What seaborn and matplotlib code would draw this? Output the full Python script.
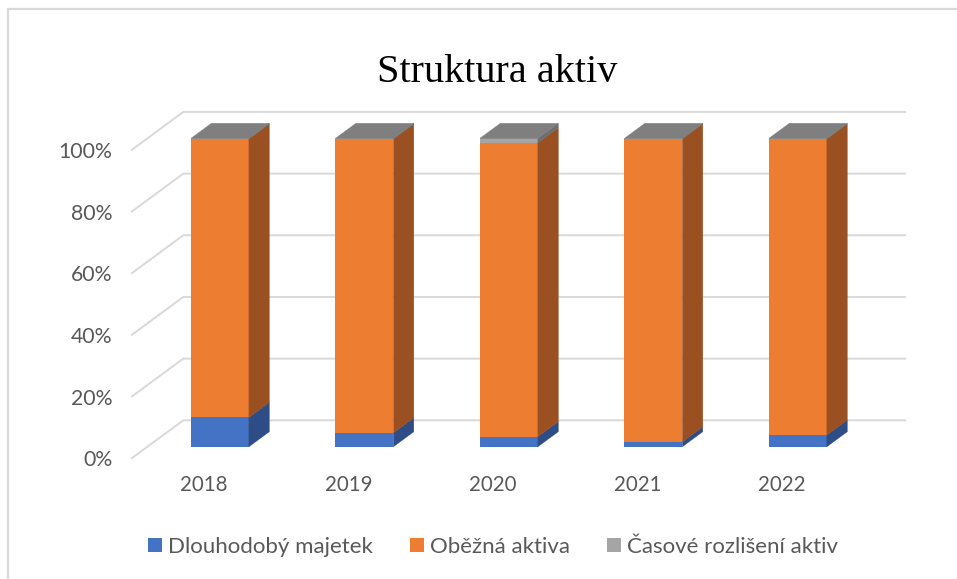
import numpy as np
import pandas as pd
import matplotlib.pyplot as plt
import seaborn as sns
from matplotlib.patches import Polygon, Patch, Rectangle
from matplotlib.transforms import Affine2D

# --- Data (shares of total assets, %) ---
years = ['2018', '2019', '2020', '2021', '2022']
dlouhodoby = [9.5, 4.5, 3.3, 1.6, 3.8]
obezna = [90.3, 95.3, 95.3, 98.2, 96.0]
casove = [0.2, 0.2, 1.4, 0.2, 0.2]
series_names = ['Dlouhodobý majetek', 'Oběžná aktiva', 'Časové rozlišení aktiv']
y_ticks = [0, 20, 40, 60, 80, 100]
y_labels = ['0%', '20%', '40%', '60%', '80%', '100%']

# --- Style ---
face_colors = ['#4472C4', '#ED7D31', '#A5A5A5']
side_colors = ['#2E4D87', '#9A5020', '#6E6E6E']
top_color = '#7F7F7F'
grid_color = '#D9D9D9'
text_color = '#595959'

sns.set_theme(style='white')
plt.rcParams['font.family'] = ['Lato', 'DejaVu Sans']

# 3D look: depth of the wall and where the bars sit inside it (data units)
DEPTH_X, DEPTH_Y = 0.357, 12.32
BAR_T0, BAR_T1 = 0.305, 0.70
BAR_WIDTH = 0.401

W, H = 957, 579
fig = plt.figure(figsize=(W / 100, H / 100), dpi=100)
ax = fig.add_axes([131.7 / W, 120.7 / H, 722 / W, 346.3 / H])

# --- Front faces: stacked by overdrawing cumulative totals ---
stack = np.array([dlouhodoby, obezna, casove])
cum = np.cumsum(stack, axis=0)
front_shift = Affine2D().translate(BAR_T0 * DEPTH_X, BAR_T0 * DEPTH_Y)

bars_by_series = {}
for i in [2, 1, 0]:
    n_before = len(ax.patches)
    df = pd.DataFrame({'Rok': years, 'Podil': cum[i]})
    sns.barplot(data=df, x='Rok', y='Podil', color=face_colors[i], saturation=1,
                width=BAR_WIDTH, linewidth=0, errorbar=None, ax=ax, zorder=4)
    bars_by_series[i] = ax.patches[n_before:]
    for p in bars_by_series[i]:
        p.set_transform(front_shift + ax.transData)

ax.set_xlim(-0.502, 4.495)
ax.set_ylim(0, 112.3)

# --- Side and top faces, derived from the drawn bars ---
ox, oy = BAR_T0 * DEPTH_X, BAR_T0 * DEPTH_Y
ddx, ddy = (BAR_T1 - BAR_T0) * DEPTH_X, (BAR_T1 - BAR_T0) * DEPTH_Y
for i in range(3):
    for j, p in enumerate(bars_by_series[i]):
        bottom = cum[i][j] - stack[i][j]
        top = cum[i][j]
        xl = p.get_x() + ox
        xr = p.get_x() + p.get_width() + ox
        side = [(xr, bottom + oy), (xr + ddx, bottom + oy + ddy),
                (xr + ddx, top + oy + ddy), (xr, top + oy)]
        ax.add_patch(Polygon(side, closed=True, facecolor=side_colors[i],
                             edgecolor=side_colors[i], lw=0.3, zorder=4))
        if i == 2:
            lid = [(xl, top + oy), (xr, top + oy),
                   (xr + ddx, top + oy + ddy), (xl + ddx, top + oy + ddy)]
            ax.add_patch(Polygon(lid, closed=True, facecolor=top_color,
                                 edgecolor=top_color, lw=0.3, zorder=4))

# --- Walls: gridlines on side wall and back wall ---
x0, x1 = ax.get_xlim()
for v in y_ticks:
    ax.plot([x0, x0 + DEPTH_X, x1 + DEPTH_X], [v, v + DEPTH_Y, v + DEPTH_Y],
            color=grid_color, lw=1.4, zorder=1, clip_on=False)

# --- Axes styling ---
for s in ax.spines.values():
    s.set_visible(False)
ax.set_yticks(y_ticks, labels=y_labels)
ax.set_xlabel('')
ax.set_ylabel('')
ax.tick_params(axis='y', length=0, pad=14, labelsize=15.3, labelcolor=text_color)
ax.tick_params(axis='x', length=0, pad=12, labelsize=14.8, labelcolor=text_color)
ax.grid(False)

# --- Title ---
fig.text(497 / W, 1 - 72.7 / H, 'Struktura aktiv', ha='center', va='center',
         family='Liberation Serif', fontsize=29, color='black')

# --- Legend ---
handles = [Patch(facecolor=c, edgecolor='none') for c in face_colors]
fig.legend(handles, series_names, loc='center', bbox_to_anchor=(493 / W, 1 - 547 / H),
           ncol=3, frameon=False, fontsize=16, labelcolor=text_color,
           handlelength=0.63, handleheight=0.63, handletextpad=0.25, columnspacing=1.7)

# --- Chart border (only left/top visible in crop) ---
fig.patches.append(Rectangle((8 / W, -0.1), 2, 0.1 + 570 / H, transform=fig.transFigure,
                             fill=False, edgecolor=grid_color, lw=1.6))

fig.savefig('out.png', dpi=100)
